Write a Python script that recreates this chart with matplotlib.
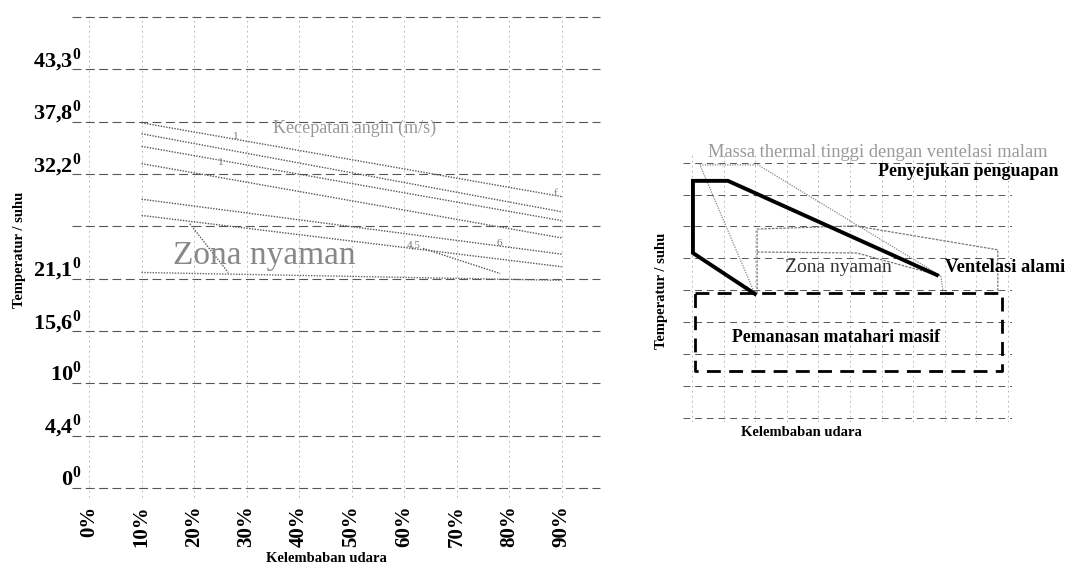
import matplotlib
matplotlib.use('Agg')
import matplotlib.pyplot as plt
from matplotlib.transforms import ScaledTranslation

plt.rcParams['font.family'] = ['Liberation Serif', 'DejaVu Serif']
plt.rcParams['mathtext.fontset'] = 'custom'
plt.rcParams['mathtext.rm'] = 'Liberation Serif'
plt.rcParams['mathtext.bf'] = 'Liberation Serif:bold'

# left chart: humidity (%) vs temperature grid level
humidity_ticks = [0, 10, 20, 30, 40, 50, 60, 70, 80, 90]
humidity_labels = ['0%', '10%', '20%', '30%', '40%', '50%', '60%', '70%', '80%', '90%']
temp_levels = [0, 1, 2, 3, 4, 5, 6, 7, 8, 9]
temp_labels = [r'0$^\mathbf{0}$', r'4,4$^\mathbf{0}$', r'10$^\mathbf{0}$', r'15,6$^\mathbf{0}$',
               r'21,1$^\mathbf{0}$', '', r'32,2$^\mathbf{0}$', r'37,8$^\mathbf{0}$',
               r'43,3$^\mathbf{0}$', '']

# wind speed lines (start at 10%, end at 90%)
wind_x = [10, 90]
wind_start = [6.98, 6.77, 6.53, 6.20, 5.52, 5.21]
wind_end = [5.57, 5.28, 5.11, 4.78, 4.47, 4.23]

# comfort zone boundaries
comfort_base_x = [10, 90]
comfort_base_y = [4.12, 3.97]
comfort_left_x = [19.2, 26.5]
comfort_left_y = [5.05, 4.12]
comfort_right_x = [63.6, 78.3]
comfort_right_y = [4.58, 4.10]

# right chart: schematic zones
evap_x = [19.9, 0.3, 0.3, 11.4, 77.5]
evap_y = [3.89, 5.17, 7.43, 7.43, 4.48]
solar_x = [0.95, 98.1, 98.1, 0.95, 0.95]
solar_y = [3.92, 3.92, 1.47, 1.47, 3.92]
mass_x = [19.9, 2.5, 20.9, 78.8, 79.4]
mass_y = [3.89, 7.93, 7.93, 4.45, 4.01]
vent_x = [20.6, 20.6, 51.6, 96.8, 96.8]
vent_y = [3.92, 5.92, 6.02, 5.27, 3.92]
zone_x = [20.6, 52.2, 78.8]
zone_y = [5.20, 5.17, 4.45]

right_x_ticks = [0, 10, 20, 30, 40, 50, 60, 70, 80, 90, 100]
right_y_ticks = [0, 1, 2, 3, 4, 5, 6, 7, 8]

fig = plt.figure(figsize=(10.7, 5.66), dpi=100)
W, H = 1070, 566


def px_axes(left, right, top, bottom):
    return fig.add_axes([left / W, 1 - bottom / H, (right - left) / W, (bottom - top) / H])


def clean(ax):
    for s in ax.spines.values():
        s.set_visible(False)
    ax.tick_params(length=0)


# ---- left chart
ax = px_axes(72, 600, 16, 497)
clean(ax)
ax.set_xlim(-3.24, 97.3)
ax.set_ylim(-0.17, 9.02)
ax.set_xticks(humidity_ticks)
ax.set_xticklabels(humidity_labels, rotation=90, fontsize=15, fontweight='bold')
ax.set_yticks(temp_levels)
ax.set_yticklabels(temp_labels, fontsize=16, fontweight='bold')
ax.tick_params(axis='x', pad=6)
ax.tick_params(axis='y', pad=-7)
for lab in ax.get_yticklabels():
    lab.set_transform(lab.get_transform() + ScaledTranslation(0, 9 / 72, fig.dpi_scale_trans))
ax.grid(axis='y', color='#555555', lw=0.8, ls=(0, (8, 4)))
ax.grid(axis='x', color='#aaaaaa', lw=0.6, ls=(0, (2, 4)))
for g in ax.get_xgridlines() + ax.get_ygridlines():
    g.set_clip_on(False)

for y0, y1 in zip(wind_start, wind_end):
    ax.plot(wind_x, [y0, y1], color='#555555', lw=1.0, ls=(0, (1, 1)))
ax.plot(comfort_base_x, comfort_base_y, color='#666666', lw=1.0, ls=(0, (1, 1)))
ax.plot(comfort_left_x, comfort_left_y, color='#555555', lw=1.0, ls=(0, (1, 1)))
ax.plot(comfort_right_x, comfort_right_y, color='#555555', lw=1.0, ls=(0, (1, 1)))

ax.text(35.0, 6.88, 'Kecepatan angin (m/s)', fontsize=13, color='#999999', va='center')
ax.text(16.0, 4.44, 'Zona nyaman', fontsize=24, color='#888888', va='center')
ax.text(27.5, 6.72, '1', fontsize=8, color='#777777', va='center')
ax.text(24.5, 6.22, '1', fontsize=8, color='#777777', va='center')
ax.text(60.5, 4.65, '4,5', fontsize=8, color='#777777', va='center')
ax.text(77.5, 4.68, '6', fontsize=8, color='#777777', va='center')
ax.text(88.5, 5.62, 'f', fontsize=8, color='#777777', va='center')

fig.text(326 / W, 1 - 558 / H, 'Kelembaban udara', fontsize=10.5, fontweight='bold',
         ha='center', va='center')
fig.text(20 / W, 1 - 250 / H, 'Temperatur / suhu', fontsize=10.5, fontweight='bold',
         ha='center', va='center', rotation=90)

# ---- right chart
ax2 = px_axes(683, 1012, 155, 422)
clean(ax2)
ax2.set_xlim(-2.85, 101.3)
ax2.set_ylim(-0.125, 8.24)
ax2.set_xticks(right_x_ticks)
ax2.set_yticks(right_y_ticks)
ax2.set_xticklabels([])
ax2.set_yticklabels([])
ax2.grid(axis='y', color='#555555', lw=0.7, ls=(0, (7, 5)))
ax2.grid(axis='x', color='#aaaaaa', lw=0.6, ls=(0, (2, 4)))

ax2.plot(mass_x, mass_y, color='#888888', lw=0.9, ls=(0, (1, 1)))
ax2.plot(vent_x, vent_y, color='#777777', lw=0.9, ls=(0, (2, 1)))
ax2.plot(zone_x, zone_y, color='#777777', lw=0.9, ls=(0, (2, 1)))
ax2.plot(evap_x, evap_y, color='black', lw=2.8, solid_joinstyle='miter')
ax2.plot(solar_x, solar_y, color='black', lw=2.0, ls=(0, (5, 3)))

ax2.text(5.1, 8.31, 'Massa thermal tinggi dengan ventelasi malam', fontsize=13.3,
         color='#999999', va='center', clip_on=False)
ax2.text(59.0, 7.71, 'Penyejukan penguapan', fontsize=13, fontweight='bold', va='center')
ax2.text(80.1, 4.73, 'Ventelasi alami', fontsize=13.3, fontweight='bold', va='center')
ax2.text(29.4, 4.70, 'Zona nyaman', fontsize=14, color='#333333', va='center')
ax2.text(12.7, 2.51, 'Pemanasan matahari masif', fontsize=12.8, fontweight='bold', va='center')

fig.text(801 / W, 1 - 433 / H, 'Kelembaban udara', fontsize=10.5, fontweight='bold',
         ha='center', va='center')
fig.text(662 / W, 1 - 291 / H, 'Temperatur / suhu', fontsize=10.5, fontweight='bold',
         ha='center', va='center', rotation=90)

fig.savefig('out.png', dpi=100)
